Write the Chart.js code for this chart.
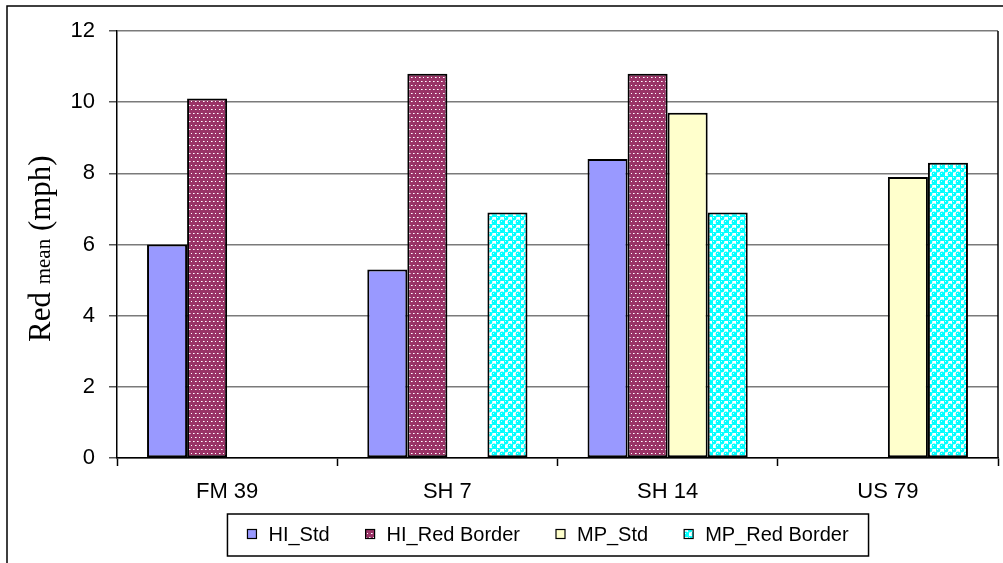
<!DOCTYPE html>
<html>
<head>
<meta charset="utf-8">
<title>Red mean by site</title>
<script src="https://cdn.jsdelivr.net/npm/chart.js@4.4.1/dist/chart.umd.min.js"></script>
<style>
  html, body { margin: 0; padding: 0; background: #fff; }
  #chart { display: block; }
</style>
</head>
<body>
<canvas id="chart" width="1003" height="563"></canvas>
<script>
// Sites and series
const categories = ["FM 39", "SH 7", "SH 14", "US 79"]
const seriesNames = ["HI_Std", "HI_Red Border", "MP_Std", "MP_Red Border"]

// Red mean (mph) per site, null where a treatment wasn't run
const hiStd = [6.0, 5.3, 8.4, null]
const hiRedBorder = [10.1, 10.8, 10.8, null]
const mpStd = [null, null, 9.7, 7.9]
const mpRedBorder = [null, 6.9, 6.9, 8.3]

// y axis range
const yMin = 0
const yMax = 12
const yStep = 2

const SANS = "'Liberation Sans', Arial, sans-serif"
const SERIF = "'Liberation Serif', 'Times New Roman', serif"

// --- fill patterns (Excel style) ---
function makeDotPattern() {
  const c = document.createElement("canvas")
  c.width = 8
  c.height = 8
  const g = c.getContext("2d")
  g.fillStyle = "#993366"
  g.fillRect(0, 0, 8, 8)
  const dots = [[1, 1], [5, 1], [3, 5], [7, 5]]
  dots.forEach(([x, y]) => {
    g.fillStyle = "#d8a8c4"
    g.fillRect(x, y, 2, 1)
    g.fillStyle = "#ffffff"
    g.fillRect(x, y, 1, 1)
  })
  return g.createPattern(c, "repeat")
}

function makeBubblePattern() {
  const c = document.createElement("canvas")
  c.width = 8
  c.height = 8
  const g = c.getContext("2d")
  g.fillStyle = "#ffffff"
  g.fillRect(0, 0, 8, 8)
  g.fillStyle = "#00ffff"
  g.beginPath()
  g.arc(2, 2, 2.4, 0, Math.PI * 2)
  g.arc(6, 6, 2.4, 0, Math.PI * 2)
  g.fill()
  g.fillRect(4, 0, 4, 1)
  g.fillRect(0, 4, 1, 4)
  g.fillStyle = "#ccffff"
  g.fillRect(1, 1, 1, 1)
  g.fillRect(5, 5, 1, 1)
  return g.createPattern(c, "repeat")
}

const fills = ["#9999ff", makeDotPattern(), "#ffffcc", makeBubblePattern()]
const values = [hiStd, hiRedBorder, mpStd, mpRedBorder]

// frame round the whole chart + plot area edges
const framePlugin = {
  id: "frame",
  afterDraw(chart) {
    const { ctx, chartArea } = chart
    ctx.save()
    ctx.strokeStyle = "#000"
    ctx.lineWidth = 1.5
    ctx.strokeRect(7, 6, chart.width + 10, chart.height + 10)
    ctx.beginPath()
    ctx.moveTo(chartArea.right, chartArea.top)
    ctx.lineTo(chartArea.right, chartArea.bottom)
    ctx.stroke()
    ctx.restore()
  }
}

// y axis title with subscript "mean"
const yTitlePlugin = {
  id: "yTitle",
  afterDraw(chart) {
    const ctx = chart.ctx
    const parts = [
      { text: "Red ", font: "31px " + SERIF },
      { text: "mean", font: "21px " + SERIF },
      { text: " (mph)", font: "31px " + SERIF }
    ]
    ctx.save()
    ctx.translate(50, 342)
    ctx.rotate(-Math.PI / 2)
    ctx.fillStyle = "#000"
    ctx.textBaseline = "alphabetic"
    let x = 0
    parts.forEach(p => {
      ctx.font = p.font
      ctx.fillText(p.text, x, 0)
      x += ctx.measureText(p.text).width
    })
    ctx.restore()
  }
}

// boxed legend under the axis
const legendPlugin = {
  id: "boxLegend",
  afterDraw(chart) {
    const ctx = chart.ctx
    const box = 9, gap = 12, spacing = 36, margin = 20
    ctx.save()
    ctx.font = "20px " + SANS
    const items = chart.data.datasets.map(ds => ({
      label: ds.label,
      fill: ds.backgroundColor,
      w: ctx.measureText(ds.label).width
    }))
    let total = 0
    items.forEach((it, i) => { total += box + gap + it.w + (i ? spacing : 0) })
    const centerX = 548
    const midY = 534
    let x = centerX - total / 2

    ctx.strokeStyle = "#000"
    ctx.lineWidth = 1.5
    ctx.strokeRect(x - margin, 514, total + margin * 2, 42)

    ctx.textBaseline = "middle"
    ctx.fillStyle = "#000"
    items.forEach(it => {
      ctx.fillStyle = it.fill
      ctx.fillRect(x, midY - box / 2, box, box)
      ctx.lineWidth = 1.2
      ctx.strokeRect(x, midY - box / 2, box, box)
      ctx.fillStyle = "#000"
      ctx.fillText(it.label, x + box + gap, midY + 1)
      x += box + gap + it.w + spacing
    })
    ctx.restore()
  }
}

const datasets = seriesNames.map((name, i) => ({
  label: name,
  data: values[i],
  backgroundColor: fills[i],
  borderColor: "#000",
  borderWidth: 2,
  borderSkipped: false,
  barPercentage: 1.0,
  categoryPercentage: 160 / 220
}))

new Chart(document.getElementById("chart"), {
  type: "bar",
  data: { labels: categories, datasets },
  options: {
    responsive: false,
    animation: false,
    devicePixelRatio: 1,
    layout: { padding: { top: 31, right: 5, bottom: 49, left: 0 } },
    plugins: {
      legend: { display: false },
      tooltip: { enabled: false }
    },
    scales: {
      x: {
        afterFit: s => { s.height = 56 },
        grid: {
          display: true,
          drawOnChartArea: false,
          drawTicks: true,
          tickLength: 8,
          tickColor: "#000",
          tickWidth: 1.5,
          offset: true
        },
        border: { color: "#000", width: 1.5 },
        ticks: {
          color: "#000",
          padding: 13,
          font: { family: SANS, size: 22 }
        }
      },
      y: {
        min: yMin,
        max: yMax,
        afterFit: s => { s.width = 117 },
        grid: {
          color: "#7a7a7a",
          lineWidth: 1.5,
          tickLength: 8,
          tickColor: "#555",
          tickWidth: 1.5
        },
        border: { color: "#000", width: 1.5 },
        ticks: {
          stepSize: yStep,
          color: "#000",
          padding: 14,
          font: { family: SANS, size: 22 }
        }
      }
    }
  },
  plugins: [framePlugin, yTitlePlugin, legendPlugin]
})
</script>
</body>
</html>
